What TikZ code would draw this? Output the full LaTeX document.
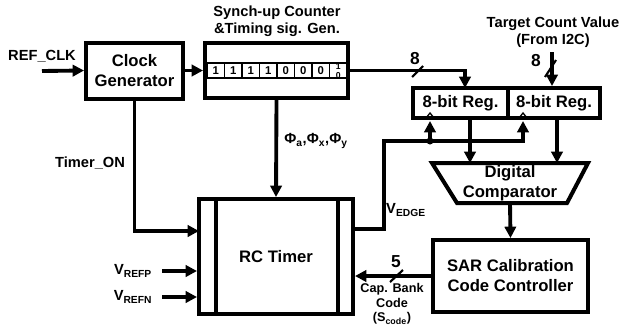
\documentclass[tikz,border=0pt]{standalone}
\usepackage{fontspec}
\setmainfont{Liberation Sans}
\usetikzlibrary{arrows.meta,positioning,calc}

\tikzset{
  blk/.style={draw, line width=3pt, align=center, inner sep=0pt,
              font=\bfseries\fontsize{12.5}{15}\selectfont},
  bitcell/.style={draw, line width=0.9pt, minimum width=13.1pt, minimum height=11.25pt,
              inner sep=0pt, font=\bfseries\fontsize{8.5}{9}\selectfont},
  sig/.style={line width=2.9pt, -{Triangle[length=8.5pt,width=8.5pt]}},
  wire/.style={line width=2.9pt},
  lbl/.style={font=\bfseries\fontsize{11}{13}\selectfont, align=center, inner sep=0pt},
  small/.style={font=\bfseries\fontsize{9.5}{11}\selectfont, align=center, inner sep=0pt},
}

\begin{document}
\begin{tikzpicture}[x=0.75pt, y=-0.75pt]

  \useasboundingbox (0,0) rectangle (620,326);

  % Blocks
  \node[blk, minimum width=72.75pt, minimum height=42pt]    (clk) at (134.5,70.5) {Clock\\Generator};
  \node[blk, minimum width=107.25pt, minimum height=41.25pt] (cnt) at (276.5,70.5) {};
  \node[blk, minimum width=71.25pt, minimum height=22.5pt]  (reg1) at (460.5,103) {8-bit Reg.};
  \node[blk, minimum width=69pt, minimum height=22.5pt]     (reg2) at (554,103) {8-bit Reg.};
  \node[blk, draw=none, minimum width=117pt, minimum height=30pt] (cmp) at (510,183) {Digital\\Comparator};
  \node[blk, minimum width=116.25pt, minimum height=54pt]   (sar) at (510.5,276) {SAR Calibration\\Code Controller};
  \node[blk, minimum width=115.5pt, minimum height=86.25pt] (rc) at (276,256.5) {RC Timer};

  % comparator outline and RC timer bars
  \draw[line width=3pt, line join=miter] (432,163) -- (588,163) -- (567,203) -- (457,203) -- cycle;
  \draw[line width=3pt] (216,199) -- (216,314);
  \draw[line width=3pt] (338,199) -- (338,314);

  % counter bits
  \foreach \v [count=\i] in {1,1,1,1,0,0,0} {
    \node[bitcell] (b\i) at (198.25+17.5*\i,70.5) {\v};
  }
  \node[bitcell] (b8) at (338.25,70.5) {};
  \node[inner sep=0pt, font=\bfseries\fontsize{6.5}{6.5}\selectfont] at (338.25,66.5) {1};
  \node[inner sep=0pt, font=\bfseries\fontsize{6.5}{6.5}\selectfont] at (338.25,75.5) {0};

  % clock edge marks
  \draw[line width=1pt] (426,118) -- (430,113) -- (434,118);
  \draw[line width=1pt] (519,118) -- (523,113) -- (527,118);

  % Labels
  \node[lbl] (reflbl) at (42,56)  {REF\_CLK};
  \node[lbl] (syn)    at (277,21) {Synch-up Counter\\\&Timing sig. Gen.};
  \node[lbl] (tgtlbl) at (553,32) {Target Count Value\\(From I2C)};
  \node[lbl] (ton)    at (90,163) {Timer\_ON};
  \node[lbl] (phi)    at (316,141) {Φ\textsubscript{a},Φ\textsubscript{x},Φ\textsubscript{y}};
  \node[lbl] (vedge)  at (406,210) {V\textsubscript{EDGE}};
  \node[lbl] (vp)     at (133,271) {V\textsubscript{REFP}};
  \node[lbl] (vn)     at (133,297) {V\textsubscript{REFN}};
  \node[lbl, font=\bfseries\fontsize{13}{13}\selectfont] (n8a) at (415,59) {8};
  \node[lbl, font=\bfseries\fontsize{13}{13}\selectfont] (n8b) at (536,61) {8};
  \node[lbl, font=\bfseries\fontsize{13}{13}\selectfont] (n5)  at (396,262) {5};
  \node[small] (cap) at (392,304) {Cap. Bank\\Code\\(S\textsubscript{code})};

  % free ends
  \coordinate (refin) at (42,71);
  \coordinate (tgtin) at (552,52);
  \coordinate (vpin)  at (162,271);
  \coordinate (vnin)  at (162,297);
  \coordinate (ck1)   at (430,121);
  \coordinate (ck2)   at (523,121);
  \coordinate (jn)    at (430,141);
  \coordinate (ve)    at (384,229);
  \coordinate (tonin) at (199,231);

  % Arrows
  \draw[sig] (refin) -- (clk.west);
  \draw[sig] (clk.east) -- (cnt.west);
  \draw[sig] (cnt.east) -| (465,88);
  \draw[sig] (tgtin) -- (tgtin |- reg2.north);
  \draw[sig] (clk.south) |- (tonin);
  \draw[sig] (cnt.south) -- (rc.north);
  \draw[sig] (vpin) -- (rc.west |- vpin);
  \draw[sig] (vnin) -- (rc.west |- vnin);
  \draw[wire] (rc.east |- ve) -- (ve) |- (jn);
  \draw[sig] (jn) -- (ck1);
  \draw[sig] (jn) -| (ck2);
  \fill (jn) circle (3.5);
  \draw[sig] (470,118) -- (470,163);
  \draw[sig] (557,118) -- (557,163);
  \draw[sig] (cmp.south |- 0,203) -- (sar.north);
  \draw[sig] (sar.west) -- (rc.east |- sar.west);

  % bus slashes
  \draw[line width=1.6pt] (412,77) -- (423,66);
  \draw[line width=1.6pt] (545,77) -- (556,60);
  \draw[line width=1.6pt] (390,282) -- (403,270);

\end{tikzpicture}
\end{document}
